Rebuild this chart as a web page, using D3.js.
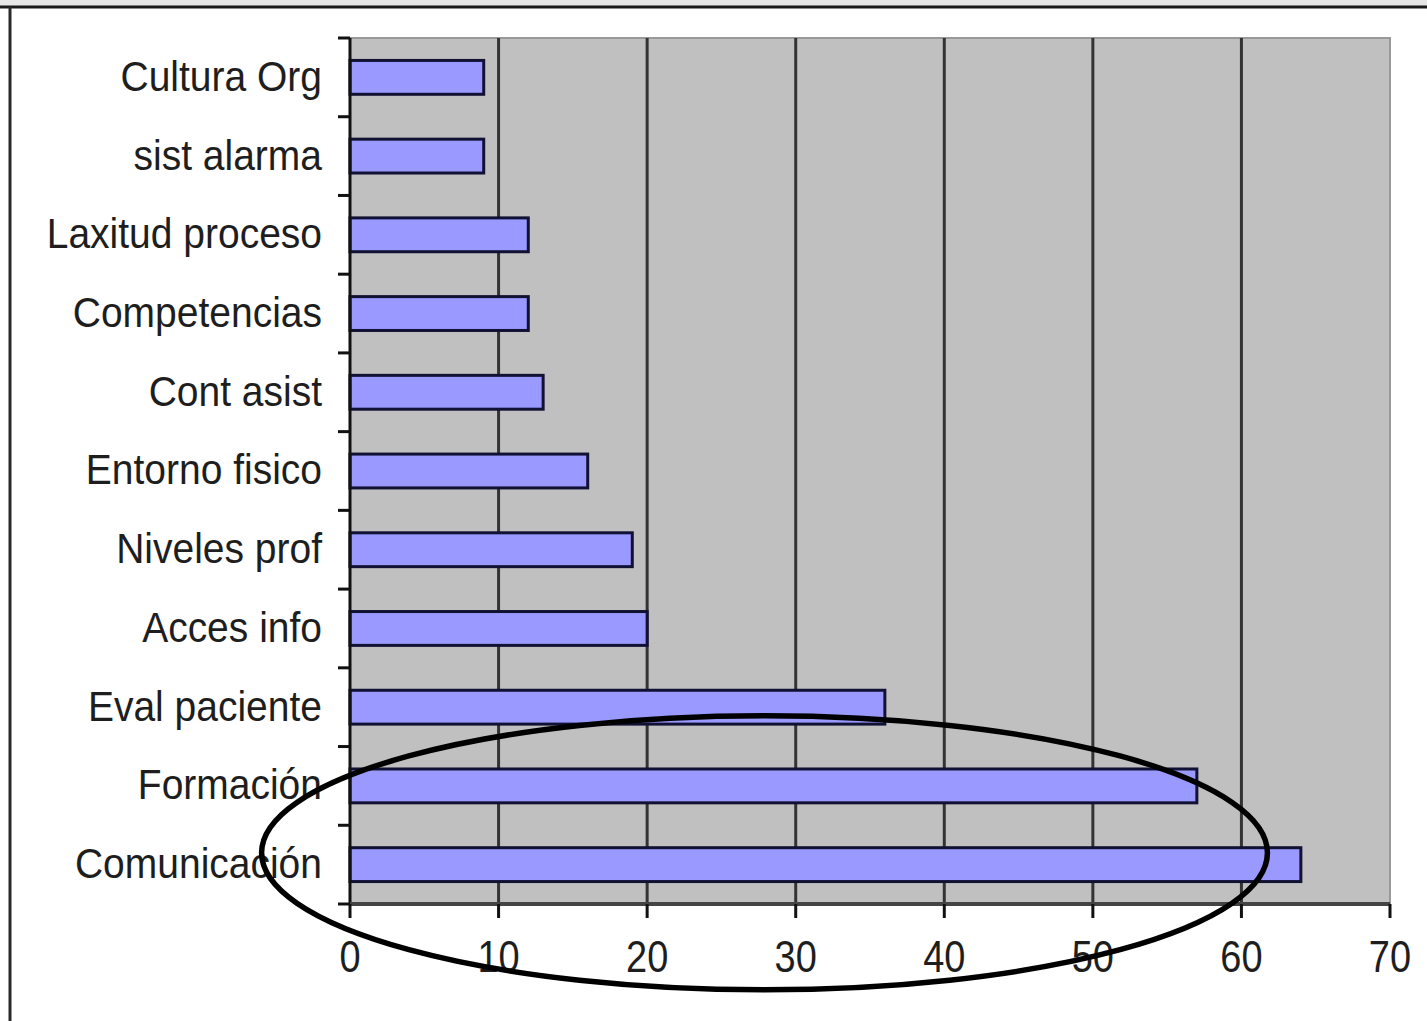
<!DOCTYPE html>
<html>
<head>
<meta charset="utf-8">
<title>Causas</title>
<style>
body { margin: 0; background: #fff; }
text { font-family: "Liberation Sans", Arial, sans-serif; fill: #1e1e1e; }
</style>
</head>
<body>
<div id="graphic"></div>
<script src="https://d3js.org/d3.v7.min.js"></script>
<script>
var categories = ["Cultura Org", "sist alarma", "Laxitud proceso", "Competencias", "Cont asist",
    "Entorno fisico", "Niveles prof", "Acces info", "Eval paciente", "Formación", "Comunicación"];
var values = [9, 9, 12, 12, 13, 16, 19, 20, 36, 57, 64];
var xTicks = [0, 10, 20, 30, 40, 50, 60, 70];

var w = 1427, h = 1021;
var plotLeft = 350, plotRight = 1390, plotTop = 38, plotBottom = 904;

var svg = d3.select("#graphic").append("svg")
    .attr("width", w)
    .attr("height", h);

// outer frame
svg.append("rect").attr("x", 0).attr("y", 0).attr("width", w).attr("height", 6).attr("fill", "#e6e6e6");
svg.append("line").attr("x1", 0).attr("x2", w).attr("y1", 7).attr("y2", 7)
    .attr("stroke", "#1a1a1a").attr("stroke-width", 3);
svg.append("line").attr("x1", 10).attr("x2", 10).attr("y1", 7).attr("y2", h)
    .attr("stroke", "#2a2a2a").attr("stroke-width", 3);

var x = d3.scaleLinear().domain([0, 70]).range([plotLeft, plotRight]);
var y = d3.scaleBand().domain(categories).range([plotTop, plotBottom])
    .paddingInner(0.57).paddingOuter(0.285);

// plot area
svg.append("rect")
    .attr("x", plotLeft).attr("y", plotTop)
    .attr("width", plotRight - plotLeft).attr("height", plotBottom - plotTop)
    .attr("fill", "#c0c0c0")
    .attr("stroke", "#999").attr("stroke-width", 2);

// grid lines
svg.append("g").selectAll("line")
    .data(xTicks.slice(1, -1))
    .enter().append("line")
    .attr("x1", function(d) { return x(d); })
    .attr("x2", function(d) { return x(d); })
    .attr("y1", plotTop).attr("y2", plotBottom)
    .attr("stroke", "#333").attr("stroke-width", 3);

// bars
svg.append("g").selectAll("rect")
    .data(values)
    .enter().append("rect")
    .attr("x", x(0))
    .attr("y", function(d, i) { return y(categories[i]); })
    .attr("width", function(d) { return x(d) - x(0); })
    .attr("height", y.bandwidth())
    .attr("fill", "#9999ff")
    .attr("stroke", "#111133")
    .attr("stroke-width", 3);

// y axis
var yAxis = svg.append("g").attr("transform", "translate(" + plotLeft + ",0)");
yAxis.append("line").attr("x1", 0).attr("x2", 0).attr("y1", plotTop).attr("y2", plotBottom)
    .attr("stroke", "#111").attr("stroke-width", 3);
var bounds = categories.map(function(c) { return y(c) - y.step() * y.paddingInner() / 2; });
bounds.push(plotBottom);
yAxis.selectAll("line.tick").data(bounds).enter().append("line")
    .attr("class", "tick")
    .attr("x1", -12).attr("x2", 0)
    .attr("y1", function(d) { return d; }).attr("y2", function(d) { return d; })
    .attr("stroke", "#111").attr("stroke-width", 3);
// labels look a bit stretched upward in the original
yAxis.selectAll("text").data(categories).enter().append("text")
    .attr("transform", function(d) {
        return "translate(-28," + (y(d) + y.bandwidth() / 2 - 2) + ") scale(1,1.1)";
    })
    .attr("dy", "0.36em")
    .attr("text-anchor", "end")
    .style("font-size", "39px")
    .text(function(d) { return d; });

// x axis
var xAxis = svg.append("g");
xAxis.append("line").attr("x1", plotLeft).attr("x2", plotRight).attr("y1", plotBottom).attr("y2", plotBottom)
    .attr("stroke", "#444").attr("stroke-width", 4);
xAxis.selectAll("line.tick").data(xTicks).enter().append("line")
    .attr("class", "tick")
    .attr("x1", function(d) { return x(d); }).attr("x2", function(d) { return x(d); })
    .attr("y1", plotBottom).attr("y2", plotBottom + 14)
    .attr("stroke", "#111").attr("stroke-width", 3);
xAxis.selectAll("text").data(xTicks).enter().append("text")
    .attr("transform", function(d) { return "translate(" + x(d) + ",956) scale(1,1.15)"; })
    .attr("dy", "0.36em")
    .attr("text-anchor", "middle")
    .style("font-size", "38px")
    .text(function(d) { return d; });

// hand drawn ellipse round the two biggest bars
var last = categories[categories.length - 1];
svg.append("ellipse")
    .attr("cx", x(27.9))
    .attr("cy", y(last) + y.bandwidth() / 2 - y.step() * 0.15)
    .attr("rx", x(33.85) - x(0))
    .attr("ry", y.step() * 1.74)
    .attr("fill", "none")
    .attr("stroke", "#000")
    .attr("stroke-width", 5.5);
</script>
</body>
</html>
